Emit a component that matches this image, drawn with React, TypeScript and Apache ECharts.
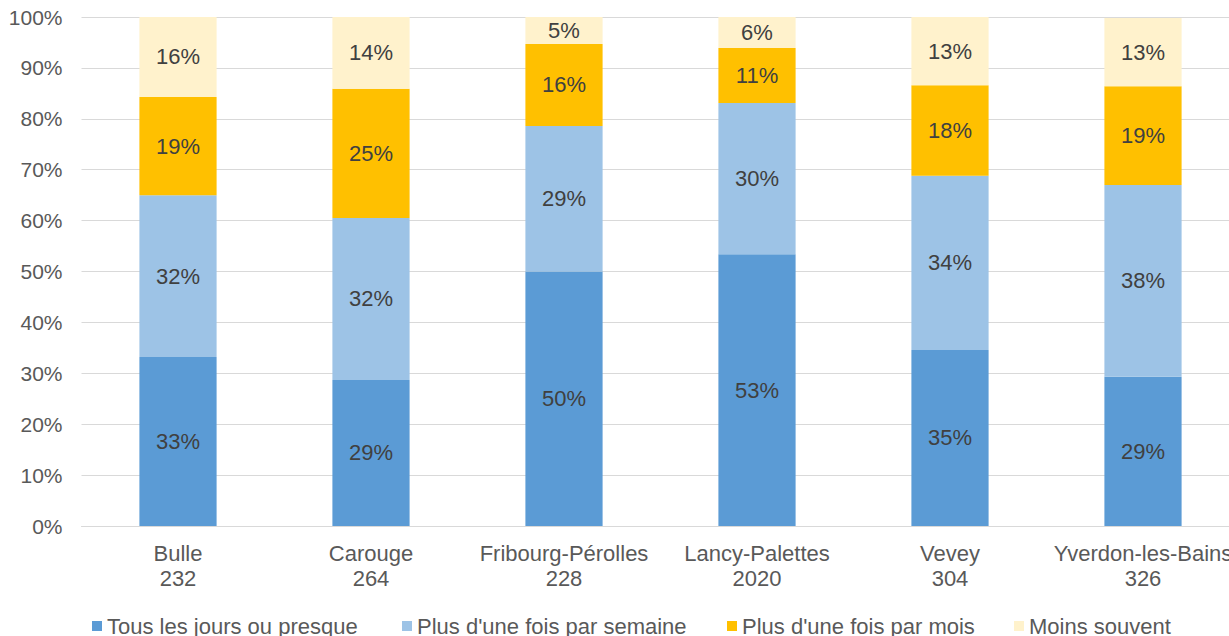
import React, { useEffect, useRef } from "react";
import * as echarts from "echarts";

const categories = [
  "Bulle\n232",
  "Carouge\n264",
  "Fribourg-Pérolles\n228",
  "Lancy-Palettes\n2020",
  "Vevey\n304",
  "Yverdon-les-Bains\n326",
];
const seriesNames = [
  "Tous les jours ou presque",
  "Plus d'une fois par semaine",
  "Plus d'une fois par mois",
  "Moins souvent",
];
const daily = [33.2, 28.7, 50.0, 53.4, 34.6, 29.3];
const weekly = [31.8, 31.8, 28.6, 29.7, 34.2, 37.7];
const monthly = [19.3, 25.4, 16.1, 10.8, 17.8, 19.4];
const lessOften = [15.7, 14.1, 5.3, 6.1, 13.4, 13.4];
const colors = ["#5B9BD5", "#9DC3E6", "#FFC000", "#FFF2CC"];
const legendLefts = [92, 402, 727, 1014];

export default function App() {
  const ref = useRef<HTMLDivElement>(null);
  useEffect(() => {
    if (!ref.current) return;
    const chart = echarts.init(ref.current, null, { renderer: "svg" });
    const font = "Liberation Sans, Arial, sans-serif";
    const values = [daily, weekly, monthly, lessOften];
    chart.setOption({
      animation: false,
      textStyle: { fontFamily: font },
      grid: { left: 81.5, top: 17, width: 1158, height: 509, containLabel: false },
      legend: seriesNames.map((name, i) => ({
        data: [name],
        left: legendLefts[i],
        top: 615,
        itemWidth: 10,
        itemHeight: 10,
        icon: "rect",
        padding: 0,
        textStyle: { fontSize: 22, color: "#595959", fontFamily: font },
      })),
      xAxis: {
        type: "category",
        data: categories,
        axisLine: { lineStyle: { color: "#D9D9D9", width: 1 } },
        axisTick: { show: false },
        axisLabel: {
          color: "#595959",
          fontSize: 22,
          fontFamily: font,
          lineHeight: 25,
          margin: 15,
          interval: 0,
        },
      },
      yAxis: {
        type: "value",
        min: 0,
        max: 100,
        interval: 10,
        axisLine: { show: false },
        axisTick: { show: false },
        splitLine: { lineStyle: { color: "#D9D9D9", width: 1 } },
        axisLabel: {
          formatter: "{value}%",
          color: "#595959",
          fontSize: 21,
          fontFamily: font,
          margin: 19,
        },
      },
      series: seriesNames.map((name, i) => ({
        name,
        type: "bar",
        stack: "total",
        barWidth: "40%",
        data: values[i],
        itemStyle: { color: colors[i] },
        label: {
          show: true,
          position: "inside",
          color: "#404040",
          fontSize: 22,
          fontFamily: font,
          formatter: (p: any) => Math.round(p.value) + "%",
        },
      })),
    });
    return () => chart.dispose();
  }, []);
  return (
    <div
      style={{
        position: "absolute",
        left: 0,
        top: 0,
        width: 1229,
        height: 636,
        overflow: "hidden",
      }}
    >
      <div ref={ref} style={{ width: 1245, height: 636 }} />
    </div>
  );
}
